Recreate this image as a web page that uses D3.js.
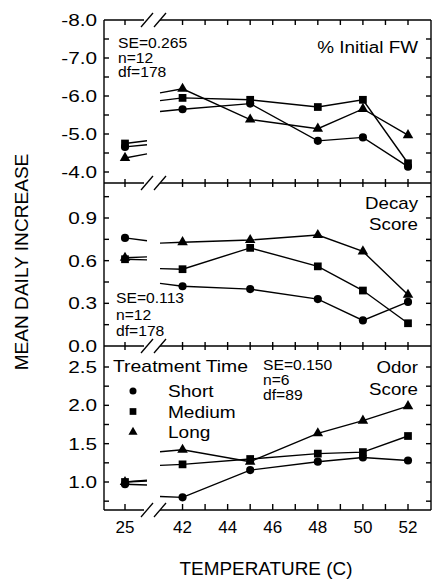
<!DOCTYPE html>
<html>
<head>
<meta charset="utf-8">
<script src="https://cdn.jsdelivr.net/npm/d3@7/dist/d3.min.js"></script>
<style>
  body { margin: 0; background: #fff; }
  text { font-family: "Liberation Sans", Arial, sans-serif; fill: #000; }
</style>
</head>
<body>
<svg id="chart" width="432" height="581"></svg>
<script>
// data
var temps = [25, 42, 45, 48, 50, 52];
var groups = ['Short', 'Medium', 'Long'];

var fwShort  = [-4.66, -5.65, -5.80, -4.82, -4.91, -4.14];
var fwMedium = [-4.75, -5.95, -5.90, -5.71, -5.90, -4.23];
var fwLong   = [-4.37, -6.19, -5.38, -5.14, -5.66, -4.97];

var decayShort  = [0.76, 0.42, 0.40, 0.33, 0.18, 0.31];
var decayMedium = [0.61, 0.54, 0.69, 0.56, 0.39, 0.16];
var decayLong   = [0.62, 0.73, 0.745, 0.78, 0.665, 0.36];

var odorShort  = [0.97, 0.80, 1.155, 1.265, 1.32, 1.28];
var odorMedium = [1.00, 1.23, 1.30, 1.37, 1.39, 1.60];
var odorLong   = [1.00, 1.42, 1.265, 1.635, 1.80, 1.99];

var xTicks = [25, 42, 43, 44, 45, 46, 47, 48, 49, 50, 51, 52];
var xLabels = [25, 42, 44, 46, 48, 50, 52];
var fwTicks = [-8, -7, -6, -5, -4];
var decayTicks = [0, 0.3, 0.6, 0.9];
var odorTicks = [1.0, 1.5, 2.0, 2.5];

var svg = d3.select('#chart');
var left = 104, right = 431;
var top0 = 20, top1 = 183, top2 = 346, bottom = 510;

// axis is broken between 26 and 41
var x = d3.scaleLinear().domain([25, 26, 41, 52]).range([125, 147, 160, 408]);

// plain hyphen minus, like the original print
var fmt = function(v) { return v.toFixed(1); };

var panels = [
  {top: top0, bottom: top1, y: d3.scaleLinear().domain([-8, -4]).range([20, 172]),
   series: [fwShort, fwMedium, fwLong], ticks: fwTicks, minor: 0.5, lo: -8, hi: -3.7},
  {top: top1, bottom: top2, y: d3.scaleLinear().domain([0, 0.9]).range([346, 218]),
   series: [decayShort, decayMedium, decayLong], ticks: decayTicks, minor: 0.15, lo: 0, hi: 1.14},
  {top: top2, bottom: bottom, y: d3.scaleLinear().domain([1.0, 2.5]).range([482, 367]),
   series: [odorShort, odorMedium, odorLong], ticks: odorTicks, minor: 0.25, lo: 0.63, hi: 2.77}
];

var symbols = [d3.symbolCircle, d3.symbolSquare, d3.symbolTriangle];
var sizes = [52, 60, 48];

function stretch(sel, k) {
  sel.each(function() {
    var l = this.getComputedTextLength();
    d3.select(this).attr('textLength', l * k).attr('lengthAdjust', 'spacingAndGlyphs');
  });
}

// points for one series, with the 25 -> 42 stretch cut by the break
function brokenPoints(vals) {
  var slope = (vals[1] - vals[0]) / (temps[1] - temps[0]);
  var pts = [{t: temps[0], v: vals[0]}, {t: 26, v: vals[0] + slope * (26 - temps[0])}, null,
             {t: 41, v: vals[1] - slope * (temps[1] - 41)}];
  for (var i = 1; i < temps.length; i++) pts.push({t: temps[i], v: vals[i]});
  return pts;
}

var frame = svg.append('g').attr('stroke', '#000').attr('stroke-width', 1.4).attr('fill', 'none');

// vertical frame sides
frame.append('line').attr('x1', left).attr('x2', left).attr('y1', top0).attr('y2', bottom);
frame.append('line').attr('x1', right).attr('x2', right).attr('y1', top0).attr('y2', bottom);

// horizontal lines with the axis break
[top0, top1, top2, bottom].forEach(function(yy) {
  frame.append('line').attr('x1', left).attr('x2', 144).attr('y1', yy).attr('y2', yy);
  frame.append('line').attr('x1', 160).attr('x2', right).attr('y1', yy).attr('y2', yy);
  [147, 160].forEach(function(cx) {
    frame.append('line').attr('x1', cx - 6).attr('y1', yy + 7).attr('x2', cx + 6).attr('y2', yy - 7)
      .attr('stroke-width', 1.3);
  });
});

// x ticks on each horizontal line
xTicks.forEach(function(t) {
  var xx = x(t);
  frame.append('line').attr('x1', xx).attr('x2', xx).attr('y1', top0).attr('y2', top0 + 5);
  [top1, top2].forEach(function(yy) {
    frame.append('line').attr('x1', xx).attr('x2', xx).attr('y1', yy - 4).attr('y2', yy + 4);
  });
  frame.append('line').attr('x1', xx).attr('x2', xx).attr('y1', bottom - 6).attr('y2', bottom);
});

svg.append('g').selectAll('text').data(xLabels).enter().append('text')
  .attr('x', function(d) { return x(d); })
  .attr('y', 533)
  .attr('text-anchor', 'middle')
  .style('font-size', '17px')
  .text(function(d) { return d; });

var line = d3.line()
  .defined(function(d) { return d !== null; })
  .x(function(d) { return x(d.t); });

panels.forEach(function(p) {
  var y = p.y;
  // y ticks, major and minor, on both sides
  var minorTicks = d3.range(Math.ceil(p.lo / p.minor) * p.minor, p.hi, p.minor)
    .filter(function(v) { return y(v) > p.top + 2 && y(v) < p.bottom - 2; });
  minorTicks.forEach(function(v) {
    var yy = y(v);
    frame.append('line').attr('x1', left).attr('x2', left + 5).attr('y1', yy).attr('y2', yy);
    frame.append('line').attr('x1', right - 5).attr('x2', right).attr('y1', yy).attr('y2', yy);
  });

  var lab = svg.append('g').selectAll('text').data(p.ticks).enter().append('text')
    .attr('x', 97)
    .attr('y', function(d) { return y(d) + 6; })
    .attr('text-anchor', 'end')
    .style('font-size', '17px')
    .text(function(d) { return fmt(d); });
  stretch(lab, 1.22);

  p.series.forEach(function(vals, i) {
    svg.append('path')
      .datum(brokenPoints(vals))
      .attr('fill', 'none')
      .attr('stroke', '#000')
      .attr('stroke-width', 1.4)
      .attr('d', line.y(function(d) { return y(d.v); }));

    svg.append('g').selectAll('path').data(vals).enter().append('path')
      .attr('transform', function(d, j) { return 'translate(' + x(temps[j]) + ',' + y(d) + ')'; })
      .attr('d', d3.symbol().type(symbols[i]).size(sizes[i]))
      .attr('fill', '#000');
  });
});

// annotations
function note(lines, xx, y0, dy, size, anchor, k) {
  var t = svg.append('g').selectAll('text').data(lines).enter().append('text')
    .attr('x', xx)
    .attr('y', function(d, i) { return y0 + i * dy; })
    .attr('text-anchor', anchor)
    .style('font-size', size + 'px')
    .text(function(d) { return d; });
  stretch(t, k);
}

note(['SE=0.265', 'n=12', 'df=178'], 118, 48, 14.5, 14.5, 'start', 1.08);
note(['% Initial FW'], 418, 53, 0, 16, 'end', 1.18);
note(['Decay', 'Score'], 418, 209, 21, 17, 'end', 1.1);
note(['SE=0.113', 'n=12', 'df=178'], 116, 303, 16.5, 14.5, 'start', 1.08);
note(['SE=0.150', 'n=6', 'df=89'], 263, 370, 15, 14.5, 'start', 1.08);
note(['Odor', 'Score'], 418, 373, 22, 17, 'end', 1.1);
note(['Treatment Time'], 113, 372, 0, 17, 'start', 1.14);

// legend
var leg = svg.append('g').selectAll('g').data(groups).enter().append('g')
  .attr('transform', function(d, i) { return 'translate(133,' + (391 + i * 20.5) + ')'; });
leg.append('path')
  .attr('d', function(d, i) { return d3.symbol().type(symbols[i]).size(sizes[i] * 0.75)(); })
  .attr('fill', '#000');
var legText = leg.append('text')
  .attr('x', 35)
  .attr('y', 6)
  .style('font-size', '17px')
  .text(function(d) { return d; });
stretch(legText, 1.12);

// axis titles
var xt = svg.append('text')
  .attr('x', 266).attr('y', 575)
  .attr('text-anchor', 'middle')
  .style('font-size', '18px')
  .text('TEMPERATURE (C)');
stretch(xt, 1.05);

var yt = svg.append('text')
  .attr('transform', 'translate(28,262) rotate(-90)')
  .attr('text-anchor', 'middle')
  .style('font-size', '18px')
  .text('MEAN DAILY INCREASE');
stretch(yt, 1.06);
</script>
</body>
</html>
